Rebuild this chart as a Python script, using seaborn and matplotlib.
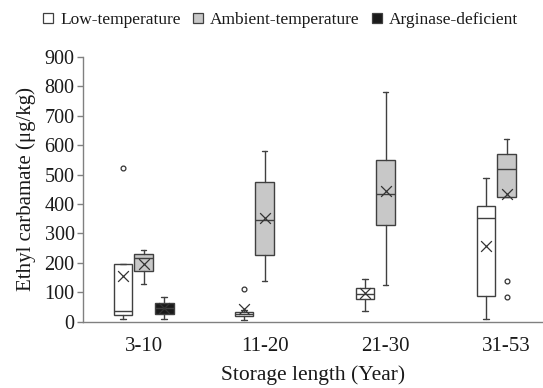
import numpy as np
import pandas as pd
import matplotlib
matplotlib.use("Agg")
import matplotlib.pyplot as plt
from matplotlib.lines import Line2D
import seaborn as sns

# Storage-length groups and the three sample types
GROUPS = ["3-10", "11-20", "21-30", "31-53"]
SERIES = ["Low-temperature", "Ambient-temperature", "Arginase-deficient"]

# Box summaries: (group, series) -> values
BOX_GROUP = ["3-10", "3-10", "3-10", "11-20", "11-20", "21-30", "21-30", "31-53", "31-53"]
BOX_SERIES = ["Low-temperature", "Ambient-temperature", "Arginase-deficient",
              "Low-temperature", "Ambient-temperature",
              "Low-temperature", "Ambient-temperature",
              "Low-temperature", "Ambient-temperature"]
WHIS_LO = [10, 127, 10, 6, 138, 37, 125, 9, 423]
Q1 = [22, 171, 27, 18, 227, 78, 329, 87, 423]
MEDIAN = [36, 217, 45, 27, 347, 95, 435, 353, 518]
Q3 = [195, 231, 65, 34, 474, 113, 550, 394, 569]
WHIS_HI = [195, 245, 84, 40, 581, 145, 780, 488, 620]
MEAN = [156, 197, 45, 42, 354, 96, 444, 258, 434]

# Outlier points
OUT_GROUP = ["3-10", "11-20", "31-53", "31-53"]
OUT_SERIES = ["Low-temperature", "Low-temperature", "Ambient-temperature", "Ambient-temperature"]
OUT_VALUE = [524, 112, 139, 85]

FILL = {"Low-temperature": "#ffffff", "Ambient-temperature": "#c8c8c8",
        "Arginase-deficient": "#1a1a1a"}
OFFSET = {"Low-temperature": -0.17, "Ambient-temperature": 0.0, "Arginase-deficient": 0.17}
EDGE = "#404040"

sns.set_theme(style="white")
plt.rcParams["font.family"] = ["Liberation Serif", "DejaVu Serif"]

fig = plt.figure(figsize=(5.43, 3.88), dpi=100)
ax = fig.add_axes([0.1529, 0.1709, 0.8471, 0.6822])

pos = [GROUPS.index(g) + OFFSET[s] for g, s in zip(BOX_GROUP, BOX_SERIES)]
stats = []
for i in range(len(BOX_GROUP)):
    stats.append(dict(whislo=WHIS_LO[i], q1=Q1[i], med=MEDIAN[i], q3=Q3[i],
                      whishi=WHIS_HI[i], fliers=[]))
art = ax.bxp(stats, positions=pos, widths=0.155, capwidths=0.045,
             patch_artist=True, showfliers=False, showmeans=False,
             boxprops=dict(edgecolor=EDGE, linewidth=1.0),
             medianprops=dict(color=EDGE, linewidth=1.0),
             whiskerprops=dict(color=EDGE, linewidth=1.0),
             capprops=dict(color=EDGE, linewidth=1.0))
for patch, s in zip(art["boxes"], BOX_SERIES):
    patch.set_facecolor(FILL[s])

means = pd.DataFrame({"x": pos, "y": MEAN})
sns.scatterplot(data=means, x="x", y="y", marker="x", s=60, color="#333333",
                linewidth=0.9, ax=ax, zorder=5, legend=False)

outs = pd.DataFrame({"x": [GROUPS.index(g) + OFFSET[s] for g, s in zip(OUT_GROUP, OUT_SERIES)],
                     "y": OUT_VALUE})
sns.scatterplot(data=outs, x="x", y="y", marker="o", s=12, facecolor="white",
                edgecolor="#333333", linewidth=0.9, ax=ax, zorder=5, legend=False)

ax.set_xlim(-0.5, 3.30)
ax.set_ylim(0, 900)
ax.set_yticks(np.arange(0, 901, 100))
ax.set_xticks([-0.5, 0.5, 1.5, 2.5])
ax.set_xticklabels([])
ax.set_xticks(range(len(GROUPS)), minor=True)
ax.set_xticklabels(GROUPS, minor=True, fontsize=15)
ax.tick_params(axis="x", which="minor", length=0, pad=11, labelcolor="#1a1a1a")
ax.tick_params(axis="x", which="major", length=4, width=1, color="#808080", direction="out")
ax.tick_params(axis="y", length=4, width=1, color="#808080", labelsize=14.5,
               labelcolor="#1a1a1a", pad=2, left=True)
for side in ["top", "right"]:
    ax.spines[side].set_visible(False)
for side in ["left", "bottom"]:
    ax.spines[side].set_color("#808080")
    ax.spines[side].set_linewidth(1.0)

ax.set_xlabel("Storage length (Year)", fontsize=15.5, color="#1a1a1a", labelpad=7)
ax.set_ylabel("Ethyl carbamate (μg/kg)", fontsize=15, color="#1a1a1a", labelpad=6)

handles = [Line2D([], [], marker="s", linestyle="none", markersize=7.5,
                  markerfacecolor=FILL[s], markeredgecolor=EDGE, markeredgewidth=0.9)
           for s in SERIES]
fig.legend(handles, SERIES, loc="upper center", bbox_to_anchor=(0.515, 1.01), ncol=3,
           frameon=False, fontsize=12.5, handlelength=0.8, handletextpad=0.3,
           columnspacing=0.6, labelcolor="#1a1a1a")

fig.savefig("out.png", dpi=100)
